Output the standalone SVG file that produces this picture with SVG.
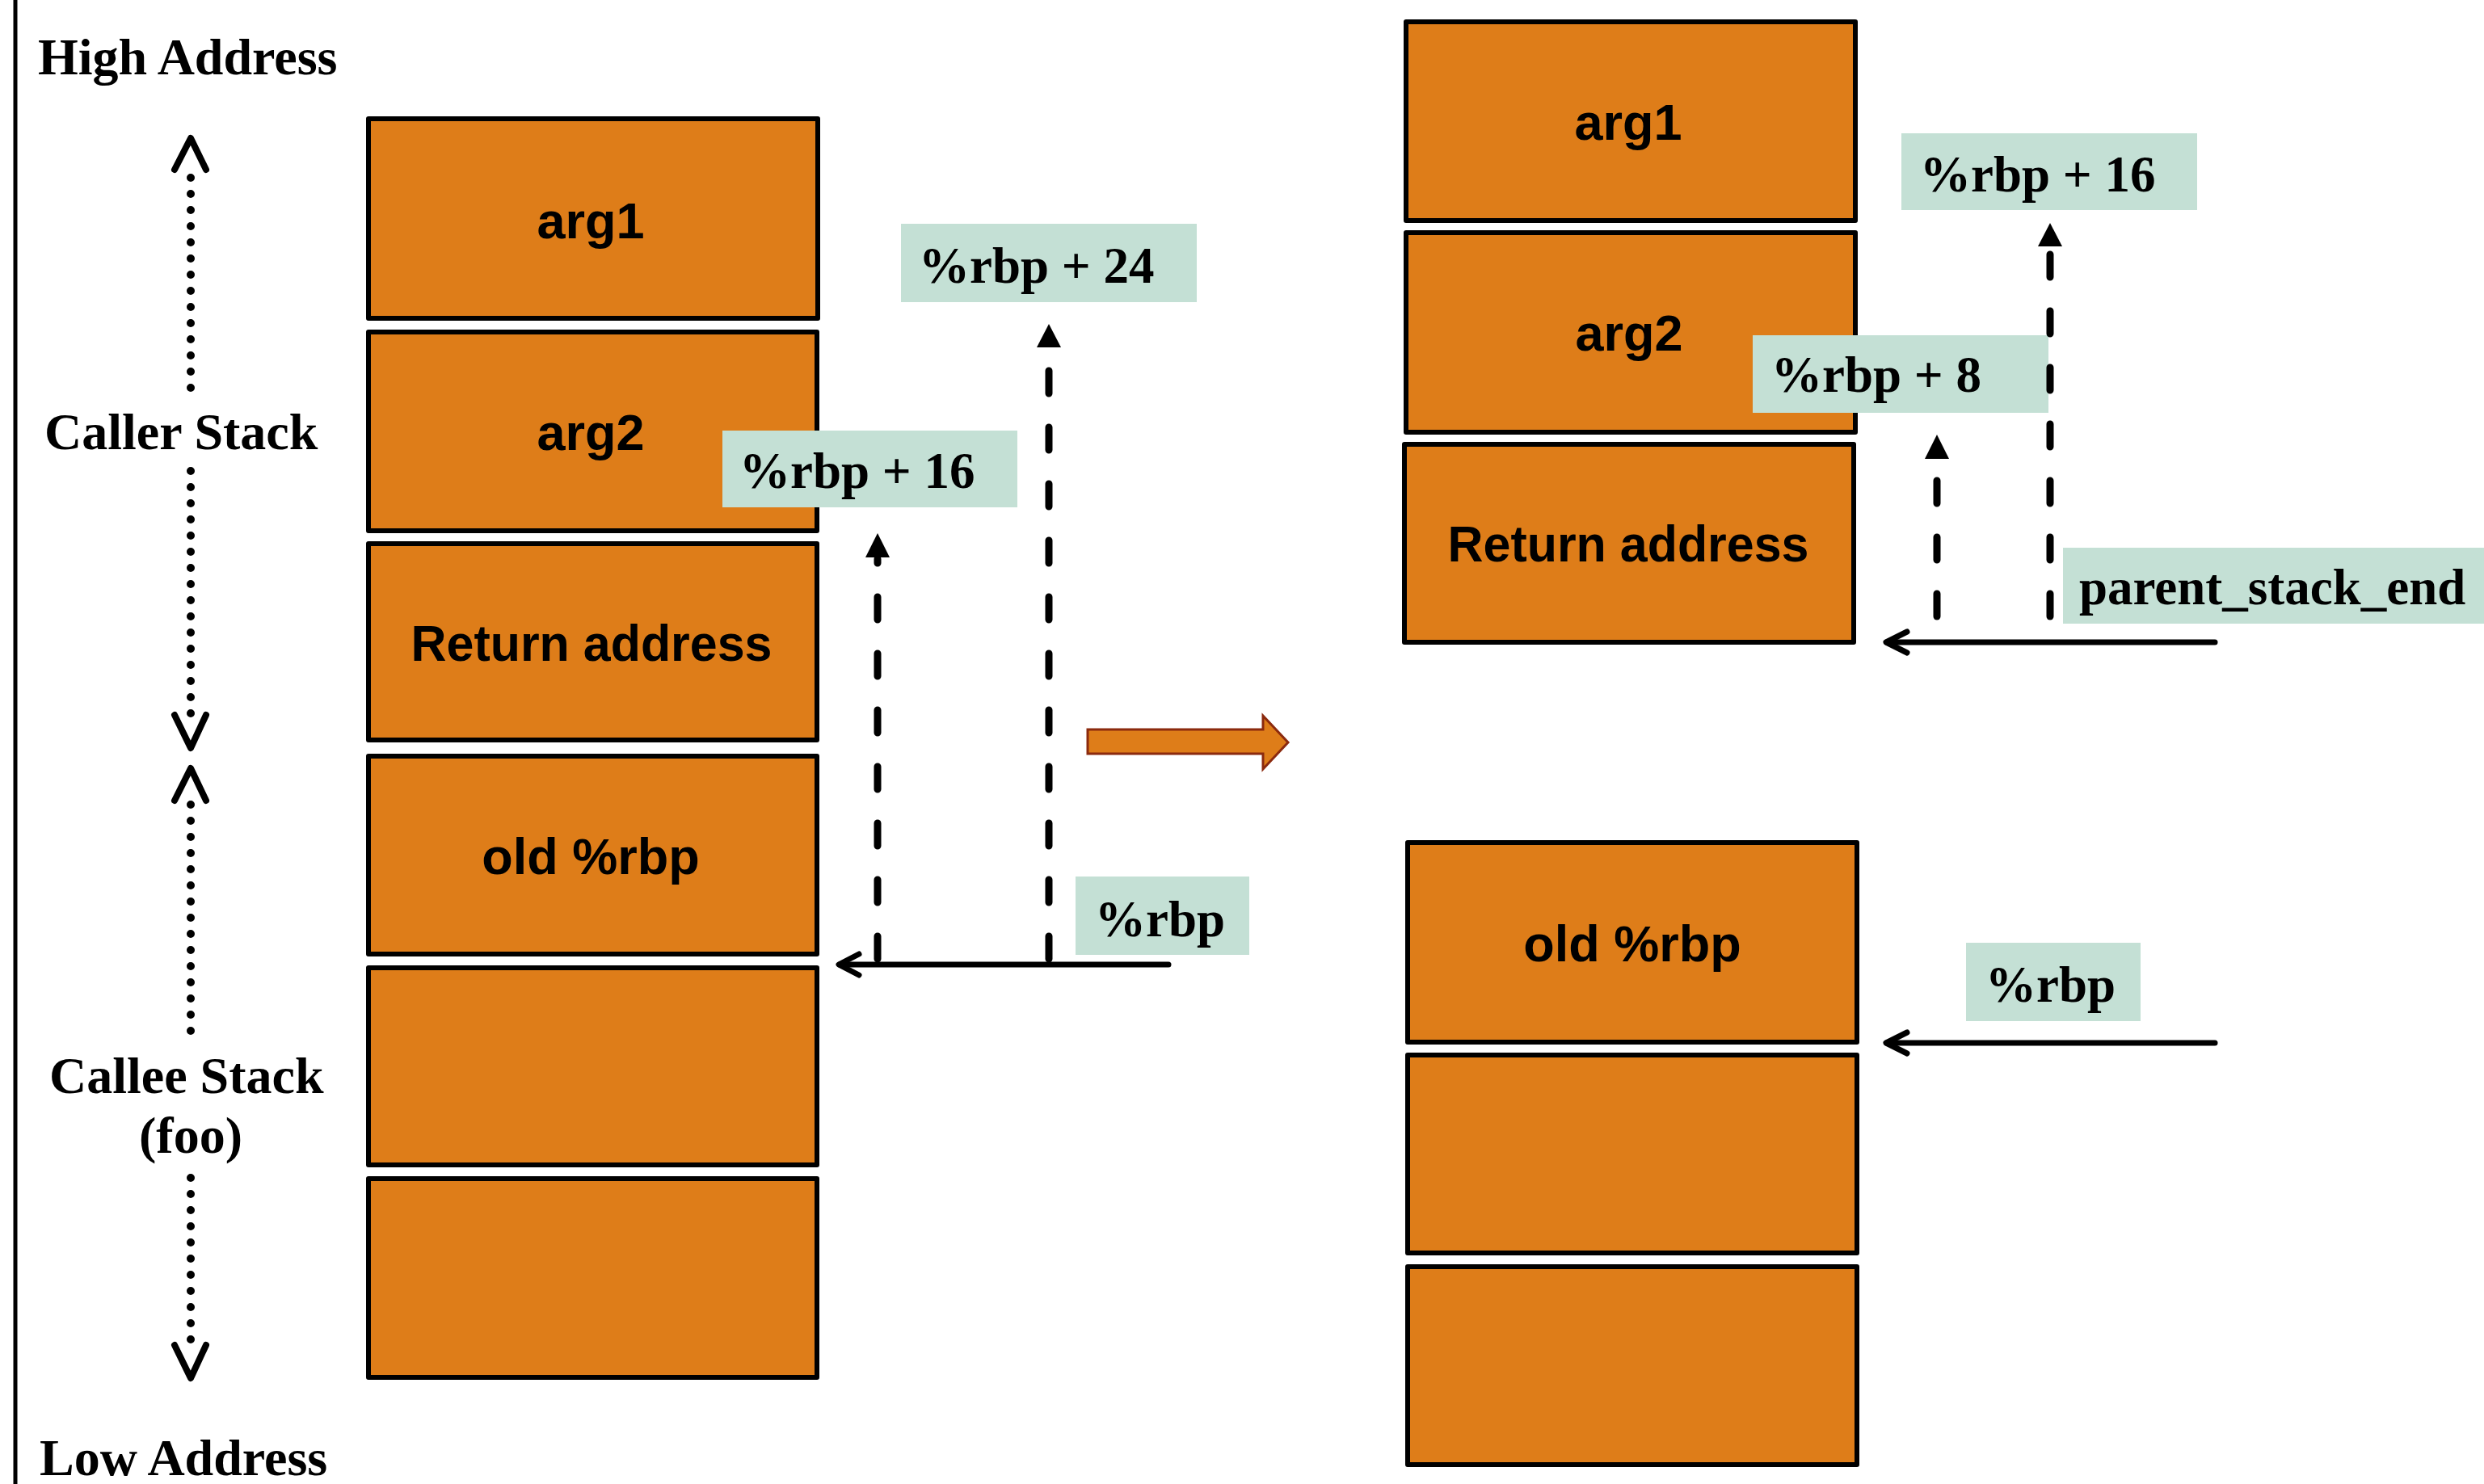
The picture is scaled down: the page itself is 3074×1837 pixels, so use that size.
<svg xmlns="http://www.w3.org/2000/svg" width="3074" height="1837" viewBox="0 0 3074 1837">
<style>
.slot{fill:#DE7D19;stroke:#000;stroke-width:6;stroke-linejoin:round}
.slotText{font-family:"Liberation Sans",Arial,sans-serif;font-weight:bold;font-size:63px;fill:#000;text-anchor:middle}
.lbl{fill:#C4E0D5}
.lblText{font-family:"Liberation Serif","Times New Roman",serif;font-weight:bold;font-size:63px;fill:#000}
.side{font-family:"Liberation Serif","Times New Roman",serif;font-weight:bold;font-size:64px;fill:#000}
.solid{fill:none;stroke:#000;stroke-width:7;stroke-linecap:round;stroke-linejoin:round}
.dash{fill:none;stroke:#000;stroke-width:9;stroke-linecap:round;stroke-dasharray:28 42}
.dots{fill:none;stroke:#000;stroke-width:10;stroke-linecap:round;stroke-dasharray:0 20}
.chev{fill:none;stroke:#000;stroke-width:8;stroke-linecap:round;stroke-linejoin:round}
.head{fill:#000}
</style>
<rect x="0" y="0" width="3074" height="1837" fill="#fff"/>
<line x1="19" y1="0" x2="19" y2="1837" stroke="#000" stroke-width="5"/>

<g id="side-labels">
<text class="side" x="47" y="92">High Address</text>
<text class="side" x="55" y="556">Caller Stack</text>
<text class="side" x="61" y="1353">Callee Stack</text>
<text class="side" x="172" y="1427">(foo)</text>
<text class="side" x="49" y="1826">Low Address</text>
</g>

<g id="left-arg1"><rect class="slot" x="456" y="147" width="556" height="247"/><text class="slotText" x="731" y="295">arg1</text></g>
<g id="left-arg2"><rect class="slot" x="456" y="411" width="555" height="246"/><text class="slotText" x="731" y="557">arg2</text></g>
<g id="left-ret"><rect class="slot" x="456" y="673" width="555" height="243"/><text class="slotText" x="732" y="818" textLength="447" lengthAdjust="spacingAndGlyphs">Return address</text></g>
<g id="left-oldrbp"><rect class="slot" x="456" y="936" width="555" height="245"/><text class="slotText" x="731" y="1082">old %rbp</text></g>
<g id="left-local1"><rect class="slot" x="456" y="1198" width="555" height="244"/></g>
<g id="left-local2"><rect class="slot" x="456" y="1459" width="555" height="246"/></g>

<g id="right-arg1"><rect class="slot" x="1740" y="27" width="556" height="246"/><text class="slotText" x="2015" y="173">arg1</text></g>
<g id="right-arg2"><rect class="slot" x="1740" y="288" width="556" height="247"/><text class="slotText" x="2016" y="434">arg2</text></g>
<g id="right-ret"><rect class="slot" x="1738" y="550" width="556" height="245"/><text class="slotText" x="2015" y="695" textLength="447" lengthAdjust="spacingAndGlyphs">Return address</text></g>
<g id="right-oldrbp"><rect class="slot" x="1742" y="1043" width="556" height="247"/><text class="slotText" x="2020" y="1190">old %rbp</text></g>
<g id="right-local1"><rect class="slot" x="1742" y="1306" width="556" height="245"/></g>
<g id="right-local2"><rect class="slot" x="1742" y="1568" width="556" height="245"/></g>

<g id="lbl-left-rbp24"><rect class="lbl" x="1115" y="277" width="366" height="97"/><text class="lblText" x="1137" y="350">%rbp + 24</text></g>
<g id="lbl-left-rbp16"><rect class="lbl" x="894" y="533" width="365" height="95"/><text class="lblText" x="915" y="604">%rbp + 16</text></g>
<g id="lbl-left-rbp"><rect class="lbl" x="1331" y="1085" width="215" height="97"/><text class="lblText" x="1355" y="1159">%rbp</text></g>
<g id="lbl-right-rbp16"><rect class="lbl" x="2353" y="165" width="366" height="95"/><text class="lblText" x="2376" y="237">%rbp + 16</text></g>
<g id="lbl-right-rbp8"><rect class="lbl" x="2169" y="415" width="366" height="96"/><text class="lblText" x="2192" y="485">%rbp + 8</text></g>
<g id="lbl-parent-end"><rect class="lbl" x="2553" y="678" width="521" height="94"/><text class="lblText" x="2573" y="748">parent_stack_end</text></g>
<g id="lbl-right-rbp"><rect class="lbl" x="2433" y="1167" width="216" height="97"/><text class="lblText" x="2457" y="1240">%rbp</text></g>

<g id="transition-arrow">
<polygon points="1346,903 1563,903 1563,886 1594,919 1563,952 1563,933 1346,933" fill="#DE7D19" stroke="#8B2A0E" stroke-width="3"/>
</g>

<g id="connectors">
<path class="dots" d="M236,480 L236,200"/>
<path class="chev" d="M216,210 L236,171 L255,210"/>
<path class="dots" d="M236,583 L236,903"/>
<path class="chev" d="M216,885 L236,926 L255,885"/>
<path class="dots" d="M236,1276 L236,976"/>
<path class="chev" d="M216,991 L236,951 L255,991"/>
<path class="dots" d="M236,1458 L236,1678"/>
<path class="chev" d="M216,1665 L236,1706 L255,1665"/>

<path class="solid" d="M1446,1194 L1039,1194"/>
<path class="solid" d="M1063,1181 L1038,1194 L1063,1207"/>
<path class="dash" d="M1086,1187 L1086,692"/>
<polygon class="head" points="1086,660 1101,690 1071,690"/>
<path class="dash" d="M1298,1187 L1298,432"/>
<polygon class="head" points="1298,401 1313,430 1283,430"/>

<path class="solid" d="M2741,795 L2335,795"/>
<path class="solid" d="M2360,782 L2334,795 L2360,808"/>
<path class="dash" d="M2397,763 L2397,570"/>
<polygon class="head" points="2397,538 2412,568 2382,568"/>
<path class="dash" d="M2537,763 L2537,307"/>
<polygon class="head" points="2537,276 2552,305 2522,305"/>

<path class="solid" d="M2741,1291 L2335,1291"/>
<path class="solid" d="M2360,1278 L2334,1291 L2360,1304"/>
</g>
</svg>
